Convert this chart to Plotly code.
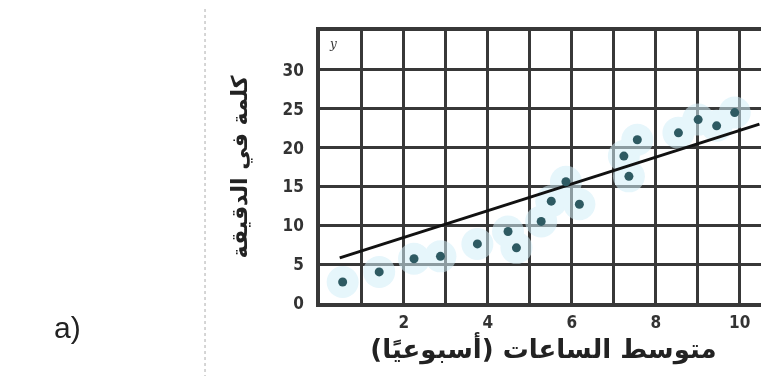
import plotly.graph_objects as go

# data
hours = [0.54, 1.41, 2.24, 2.87, 3.75, 4.48, 4.68, 5.27, 5.51, 5.86, 6.18, 7.24, 7.36, 7.56, 8.54, 9.01, 9.45, 9.88]
wpm = [2.7, 4.0, 5.7, 6.0, 7.6, 9.2, 7.1, 10.5, 13.1, 15.6, 12.7, 18.9, 16.3, 21.0, 21.9, 23.6, 22.8, 24.5]
fit_x = [0.47, 10.47]
fit_intercept = 5.0
fit_slope = 1.72
x_tickvals = [1, 2, 3, 4, 5, 6, 7, 8, 9, 10]
x_ticktext = ["", "2", "", "4", "", "6", "", "8", "", "10"]
y_tickvals = [0, 5, 10, 15, 20, 25, 30]
x_title = "متوسط الساعات (أسبوعيًا)"
y_title = "كلمة في الدقيقة"

fit_y = [fit_intercept + fit_slope * v for v in fit_x]

grid = "#383838"
fig = go.Figure()
# light blue halo around the data (semi-transparent so the grid shows through)
fig.add_trace(go.Scatter(x=hours, y=wpm, mode="markers", opacity=0.55,
                         marker=dict(size=32, color="#d2eef8", line=dict(width=0)),
                         hoverinfo="skip", showlegend=False))
fig.add_trace(go.Scatter(x=fit_x, y=fit_y, mode="lines",
                         line=dict(color="#111111", width=3), showlegend=False))
fig.add_trace(go.Scatter(x=hours, y=wpm, mode="markers",
                         marker=dict(size=9, color="#2e5a62"), showlegend=False))

tickfont = dict(size=17, family="DejaVu Sans Condensed", weight="bold", color="#333333")
fig.update_layout(
    width=769, height=376,
    margin=dict(l=312, r=6, t=23, b=81),
    paper_bgcolor="white", plot_bgcolor="white",
    font=dict(family="DejaVu Sans", color="#222222"),
    xaxis=dict(range=[0, 10.65], tickmode="array", tickvals=x_tickvals, ticktext=x_ticktext,
               showgrid=True, gridcolor=grid, gridwidth=2.6, zeroline=False,
               showline=True, linecolor=grid, linewidth=3.5, mirror=True,
               ticks="", ticklabelstandoff=1, tickfont=tickfont,
               title=dict(text=x_title, standoff=0,
                          font=dict(size=26, family="DejaVu Sans", weight="bold", color="#222222"))),
    yaxis=dict(range=[0, 35], tickmode="array", tickvals=y_tickvals,
               showgrid=True, gridcolor=grid, gridwidth=2.6, zeroline=False,
               showline=True, linecolor=grid, linewidth=3.5, mirror=True,
               ticks="", ticklabelstandoff=9, tickfont=tickfont,
               title=dict(text=y_title, standoff=30,
                          font=dict(size=22, family="DejaVu Sans", weight="bold", color="#222222"))),
)

fig.add_annotation(x=0.015, y=0.985, xref="paper", yref="paper", text="<i>y</i>",
                   showarrow=False, xanchor="left", yanchor="top",
                   font=dict(size=12, family="DejaVu Serif", color="#333333"))
fig.add_annotation(x=1.0, y=0.06, xref="paper", yref="paper", text="x",
                   showarrow=False, xanchor="center", yanchor="top", borderpad=0,
                   font=dict(size=8, family="DejaVu Sans", color="#333333"))
fig.add_annotation(xref="paper", yref="paper", x=(42 - 312) / 451, y=(295 - 338) / 272,
                   text="a)", showarrow=False,
                   font=dict(size=30, family="Liberation Sans", color="#222222"))
fig.add_shape(type="line", xref="paper", yref="paper",
              x0=(196 - 312) / 451, x1=(196 - 312) / 451, y0=(295 - 376) / 272, y1=(295 - 0) / 272,
              line=dict(color="#c8c8c8", width=1.5, dash="dot"))

fig.write_html("out.html")
